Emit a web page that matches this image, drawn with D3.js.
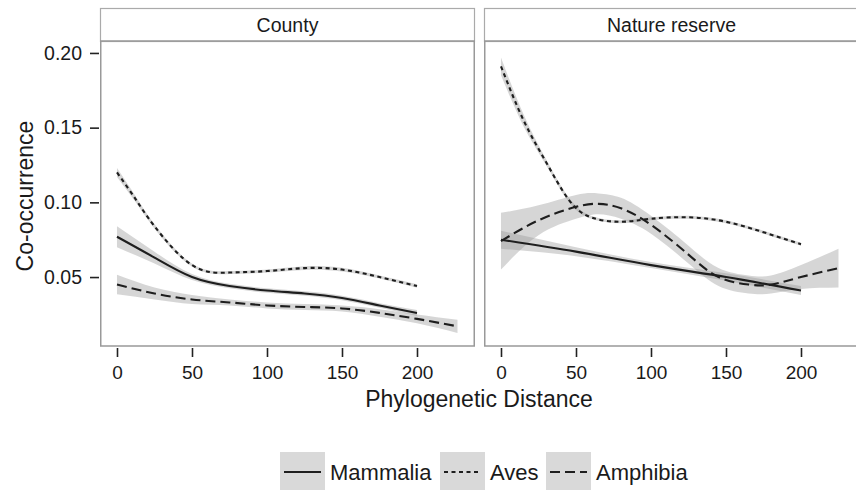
<!DOCTYPE html>
<html>
<head>
<meta charset="utf-8">
<script src="https://cdn.jsdelivr.net/npm/d3@7"></script>
<style>
    body { margin: 0; background: #fff; }
    svg text { font-family: "Liberation Sans", Arial, sans-serif; fill: #1a1a1a; }
</style>
</head>
<body>
<div id="chart"></div>
<script>
// facet names, taxa and axis ticks
const panels = ["County", "Nature reserve"]
const taxa = ["Mammalia", "Aves", "Amphibia"]
const xTicks = [0, 50, 100, 150, 200]
const yTicks = [0.05, 0.10, 0.15, 0.20]

// County: distance, fitted co-occurrence, half width of the grey band
const countyMammaliaDist = [0, 25, 50, 75, 100, 125, 150, 175, 200]
const countyMammaliaFit = [0.077, 0.063, 0.050, 0.044, 0.041, 0.039, 0.036, 0.031, 0.026]
const countyMammaliaSe = [0.007, 0.004, 0.002, 0.0015, 0.0015, 0.0015, 0.0015, 0.0015, 0.002]

const countyAvesDist = [0, 12.5, 25, 50, 75, 100, 125, 150, 175, 200]
const countyAvesFit = [0.120, 0.102, 0.084, 0.058, 0.053, 0.054, 0.056, 0.055, 0.050, 0.044]
const countyAvesSe = [0.003, 0.002, 0.0015, 0.001, 0.001, 0.001, 0.0012, 0.0012, 0.001, 0.0012]

const countyAmphibiaDist = [0, 25, 50, 75, 100, 125, 150, 175, 200, 227]
const countyAmphibiaFit = [0.045, 0.039, 0.035, 0.033, 0.031, 0.030, 0.029, 0.026, 0.022, 0.017]
const countyAmphibiaSe = [0.0065, 0.004, 0.003, 0.002, 0.002, 0.002, 0.002, 0.0025, 0.003, 0.0045]

// Nature reserve
const natureMammaliaDist = [0, 50, 100, 150, 200]
const natureMammaliaFit = [0.075, 0.067, 0.058, 0.050, 0.041]
const natureMammaliaSe = [0.006, 0.003, 0.002, 0.0025, 0.003]

const natureAvesDist = [0, 15, 30, 45, 60, 80, 100, 125, 150, 175, 200]
const natureAvesFit = [0.191, 0.155, 0.127, 0.102, 0.090, 0.087, 0.089, 0.090, 0.087, 0.080, 0.072]
const natureAvesSe = [0.006, 0.004, 0.002, 0.0015, 0.001, 0.001, 0.001, 0.001, 0.001, 0.001, 0.001]

const natureAmphibiaDist = [0, 25, 50, 65, 80, 100, 125, 145, 165, 180, 200, 225]
const natureAmphibiaFit = [0.074, 0.088, 0.097, 0.099, 0.096, 0.085, 0.065, 0.050, 0.045, 0.045, 0.050, 0.056]
const natureAmphibiaSe = [0.019, 0.010, 0.008, 0.007, 0.007, 0.006, 0.006, 0.006, 0.006, 0.006, 0.008, 0.013]

function zipSeries(dist, fit, se) {
    return dist.map((d, i) => ({ x: d, y: fit[i], se: se[i] }))
}

const series = {
    "County": {
        Mammalia: zipSeries(countyMammaliaDist, countyMammaliaFit, countyMammaliaSe),
        Aves: zipSeries(countyAvesDist, countyAvesFit, countyAvesSe),
        Amphibia: zipSeries(countyAmphibiaDist, countyAmphibiaFit, countyAmphibiaSe)
    },
    "Nature reserve": {
        Mammalia: zipSeries(natureMammaliaDist, natureMammaliaFit, natureMammaliaSe),
        Aves: zipSeries(natureAvesDist, natureAvesFit, natureAvesSe),
        Amphibia: zipSeries(natureAmphibiaDist, natureAmphibiaFit, natureAmphibiaSe)
    }
}

const dashes = { Mammalia: null, Aves: "4,3.5", Amphibia: "10,5" }

const width = 856, height = 495
const panelW = 375, panelTop = 41, panelBottom = 346, stripTop = 8
const panelX = [100, 484]

const svg = d3.select("#chart").append("svg")
    .attr("width", width)
    .attr("height", height)

const xScale = d3.scaleLinear().domain([-11.33, 238.67]).range([0, panelW])
const yScale = d3.scaleLinear().domain([0.00385, 0.2080]).range([panelBottom, panelTop])

const line = d3.line()
    .x(d => xScale(d.x))
    .y(d => yScale(d.y))
    .curve(d3.curveNatural)

const band = d3.area()
    .x(d => xScale(d.x))
    .y0(d => yScale(d.y - d.se))
    .y1(d => yScale(d.y + d.se))
    .curve(d3.curveNatural)

panels.forEach((name, i) => {
    const g = svg.append("g").attr("transform", "translate(" + panelX[i] + ",0)")

    g.append("clipPath").attr("id", "clip" + i)
        .append("rect")
        .attr("x", 0).attr("y", panelTop)
        .attr("width", panelW).attr("height", panelBottom - panelTop)

    // strip
    g.append("rect")
        .attr("x", 0.5).attr("y", stripTop + 0.5)
        .attr("width", panelW - 1).attr("height", panelTop - stripTop)
        .attr("fill", "#fff")
        .attr("stroke", "#aaa")
        .attr("stroke-width", 1.2)

    g.append("text")
        .attr("x", panelW / 2)
        .attr("y", 32)
        .attr("text-anchor", "middle")
        .style("font-size", "19.5px")
        .text(name)

    const plot = g.append("g").attr("clip-path", "url(#clip" + i + ")")

    taxa.forEach(t => {
        plot.append("path")
            .datum(series[name][t])
            .attr("fill", "#999")
            .attr("fill-opacity", 0.4)
            .attr("d", band)
    })

    taxa.forEach(t => {
        plot.append("path")
            .datum(series[name][t])
            .attr("fill", "none")
            .attr("stroke", "#1e1e1e")
            .attr("stroke-width", 2.1)
            .attr("stroke-dasharray", dashes[t])
            .attr("d", line)
    })

    // panel border
    g.append("rect")
        .attr("x", 0.75).attr("y", panelTop)
        .attr("width", panelW - 1.5).attr("height", panelBottom - panelTop)
        .attr("fill", "none")
        .attr("stroke", "#999")
        .attr("stroke-width", 1.5)

    const xaxis = d3.axisBottom(xScale)
        .tickValues(xTicks)
        .tickSize(9)
        .tickPadding(9)

    const ax = g.append("g")
        .attr("transform", "translate(0," + (panelBottom + 2) + ")")
        .call(xaxis)
    ax.select(".domain").remove()
    ax.selectAll("line").attr("stroke", "#222").attr("stroke-width", 1.6)
    ax.selectAll("text").style("font-size", "19px").attr("fill", "#1a1a1a")

    if (i === 0) {
        const yaxis = d3.axisLeft(yScale)
            .tickValues(yTicks)
            .tickFormat(d3.format(".2f"))
            .tickSize(9)
            .tickPadding(8)
        const ay = g.append("g")
            .attr("transform", "translate(-1,0)")
            .call(yaxis)
        ay.select(".domain").remove()
        ay.selectAll("line").attr("stroke", "#222").attr("stroke-width", 1.6)
        ay.selectAll("text").style("font-size", "19.5px").attr("fill", "#1a1a1a")
    }
})

// axis titles
svg.append("text")
    .attr("x", 479)
    .attr("y", 407)
    .attr("text-anchor", "middle")
    .style("font-size", "23px")
    .text("Phylogenetic Distance")

svg.append("text")
    .attr("transform", "translate(33," + 196 + ")rotate(-90)")
    .attr("text-anchor", "middle")
    .style("font-size", "23px")
    .text("Co-occurrence")

// legend
const legendX = [280, 440, 546]
const legend = svg.append("g")
taxa.forEach((t, i) => {
    const k = legend.append("g").attr("transform", "translate(" + legendX[i] + ",452)")
    k.append("rect")
        .attr("width", 45).attr("height", 38)
        .attr("fill", "#d9d9d9")
    k.append("line")
        .attr("x1", 4).attr("x2", 41)
        .attr("y1", 20).attr("y2", 20)
        .attr("stroke", "#1e1e1e")
        .attr("stroke-width", 2.1)
        .attr("stroke-dasharray", dashes[t])
    k.append("text")
        .attr("x", 50)
        .attr("y", 28)
        .style("font-size", "22px")
        .text(t)
})
</script>
</body>
</html>
